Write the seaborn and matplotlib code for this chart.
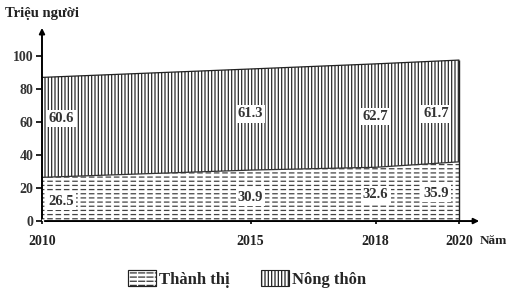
import matplotlib
matplotlib.use("Agg")
import matplotlib.pyplot as plt
import seaborn as sns
import pandas as pd
from matplotlib.patches import Patch
from matplotlib.legend_handler import HandlerTuple

years = [2010, 2015, 2018, 2020]
urban = [26.5, 30.9, 32.6, 35.9]
rural = [60.6, 61.3, 62.7, 61.7]
y_ticks = [0, 20, 40, 60, 80, 100]
series_names = ["Thành thị", "Nông thôn"]

total = [u + r for u, r in zip(urban, rural)]
df = pd.DataFrame({"year": years, "urban": urban, "total": total})

sns.set_theme(style="white")
plt.rcParams["font.family"] = ["Liberation Serif", "DejaVu Serif"]
plt.rcParams["font.weight"] = "bold"
plt.rcParams["hatch.linewidth"] = 0.9
plt.rcParams["hatch.color"] = "#222222"

fig = plt.figure(figsize=(5.14, 2.92), dpi=100)
ax = fig.add_axes([0.0817, 0.243, 0.856, 0.671])

# urban: dashed horizontal lines (horizontal hatch cut by white vertical hatch)
ax.fill_between(df["year"], 0, df["urban"], facecolor="white", hatch="----",
                edgecolor="#444444", linewidth=0)
with plt.rc_context({"hatch.linewidth": 2.0}):
    ax.fill_between(df["year"], 0, df["urban"], facecolor="none", hatch="||",
                    edgecolor="white", linewidth=0)
    cut_patch = Patch(facecolor="none", edgecolor="white", hatch="||", linewidth=0)
ax.fill_between(df["year"], df["urban"], df["total"], facecolor="white", hatch="|||||",
                edgecolor="#2a2a2a", linewidth=0)
sns.lineplot(data=df, x="year", y="urban", color="#333333", linewidth=0.9, ax=ax)
sns.lineplot(data=df, x="year", y="total", color="#222222", linewidth=0.9, ax=ax)
ax.vlines(years[-1], 0, total[-1], color="#222222", linewidth=1.0)

ax.set_xlim(2010, 2020.55)
ax.set_ylim(0, 118.8)
ax.set_xticks(years)
ax.set_yticks(y_ticks)
ax.set_xlabel("")
ax.set_ylabel("")
for s in ["top", "right", "left", "bottom"]:
    ax.spines[s].set_visible(False)

ax.annotate("", xy=(0, 1.0), xytext=(0, 0), xycoords="axes fraction",
            arrowprops=dict(arrowstyle="-|>", color="black", lw=1.4, mutation_scale=8))
ax.annotate("", xy=(1.0, 0), xytext=(0, 0), xycoords="axes fraction",
            arrowprops=dict(arrowstyle="-|>", color="black", lw=1.4, mutation_scale=8))

ax.tick_params(axis="y", left=True, length=4, width=1.2, pad=2, labelsize=10,
               labelcolor="#333333", color="black")
ax.tick_params(axis="x", bottom=True, direction="inout", length=4, width=1.2,
               pad=8, labelsize=10, labelcolor="#222222", color="black")
for lbl in ax.get_xticklabels() + ax.get_yticklabels():
    lbl.set_fontweight("bold")

box = dict(boxstyle="square,pad=0.15", facecolor="white", edgecolor="none")
label_x = [2010.45, 2015, 2018, 2019.45]
urban_label_y = [12, 14.5, 16, 17]
rural_label_y = [62, 65, 63.5, 65]
for x, yu, yr, u, r in zip(label_x, urban_label_y, rural_label_y, urban, rural):
    ax.text(x, yu, f"{u}", ha="center", va="center", fontsize=10.5,
            fontweight="bold", color="#333333", bbox=box)
    ax.text(x, yr, f"{r}", ha="center", va="center", fontsize=10.5,
            fontweight="bold", color="#333333", bbox=box)

fig.text(0.010, 0.955, "Triệu người", fontsize=10.5, fontweight="bold",
         color="#222222", ha="left", va="center")
fig.text(0.934, 0.176, "Năm", fontsize=9.5, fontweight="bold",
         color="#222222", ha="left", va="center")

urban_handle = (Patch(facecolor="white", edgecolor="#333333", hatch="----", linewidth=0.8),
                cut_patch,
                Patch(facecolor="none", edgecolor="#222222", linewidth=0.8))
rural_handle = Patch(facecolor="white", edgecolor="#222222", hatch="|||||", linewidth=0.8)
leg = fig.legend([urban_handle, rural_handle], series_names, loc="center",
                 bbox_to_anchor=(0.48, 0.045),
                 ncol=2, frameon=False, handlelength=1.7,
                 handleheight=1.1, handletextpad=0.15, columnspacing=1.9,
                 handler_map={tuple: HandlerTuple(ndivide=1, pad=0)},
                 prop={"family": ["Liberation Serif", "DejaVu Serif"], "weight": "bold", "size": 12})

fig.savefig("out.png", dpi=100)
